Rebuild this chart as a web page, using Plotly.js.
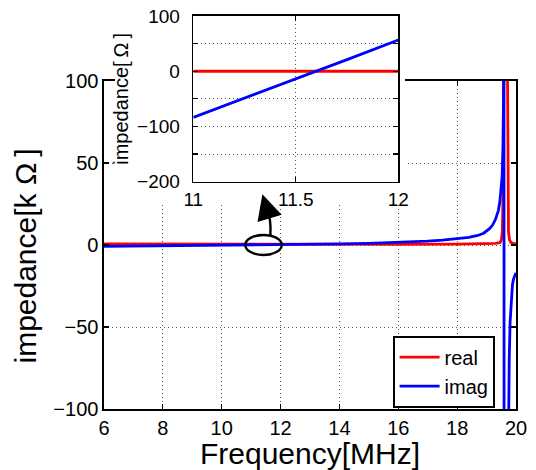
<!DOCTYPE html>
<html>
<head>
<meta charset="utf-8">
<script src="https://cdn.plot.ly/plotly-3.0.1.min.js"></script>
<style>
  html, body { margin: 0; padding: 0; background: #fff; }
  #wrap { position: relative; width: 536px; height: 470px; }
  #main, #inset { position: absolute; left: 0; top: 0; width: 536px; height: 470px; }
</style>
</head>
<body>
<div id="wrap">
  <div id="main"></div>
  <div id="inset"></div>
</div>
<script>
// ---------- data ----------
// main plot: frequency in MHz, impedance in kOhm
var freqReal = [6, 8, 10, 12, 14, 16, 18, 19, 19.3, 19.46, 19.5, 19.535, 19.56, 19.575, 19.6, 19.645, 19.69, 19.705, 19.72, 19.745, 19.78, 19.83, 19.9, 20];
var realK    = [0.6, 0.5, 0.4, 0.4, 0.4, 0.4, 0.5, 0.7, 1.0, 1.5, 3, 8, 30, 100, 400, 900, 400, 120, 30, 8, 3, 1.5, 1.0, 0.7];

var freqImag = [6, 7, 8, 9, 10, 11, 11.5, 12, 13, 14, 15, 16, 17, 17.5, 18, 18.4, 18.7, 18.9, 19.1, 19.2, 19.3, 19.4, 19.45, 19.5, 19.53, 19.56, 19.58, 19.59, 19.6, 19.65, 19.7, 19.74, 19.77, 19.8, 19.84, 19.88, 19.92, 19.96, 20];
var imagK    = [-0.8, -0.65, -0.5, -0.38, -0.25, -0.084, -0.015, 0.056, 0.35, 0.65, 1.0, 1.6, 2.4, 3.0, 3.8, 4.6, 5.8, 7.2, 10, 12, 15.5, 21, 26, 34, 42, 60, 95, 200, -450, -300, -190, -110, -70, -47, -31, -24, -20.5, -18.5, -17];

// inset: frequency in MHz, impedance in Ohm
var insetFreq = [11, 11.25, 11.5, 11.75, 12];
var insetReal = [0, 0, 0, 0, 0];
var insetImag = [-83.5, -49, -14.5, 21, 56.5];

// ticks
var mainXTicks = [6, 8, 10, 12, 14, 16, 18, 20];
var mainYTicks = [-100, -50, 0, 50, 100];
var insetXTicks = [11, 11.5, 12];
var insetXText = ['11', '11.5', '12'];
var insetYTicks = [-200, -150, -100, -50, 0, 50, 100];
var insetYText = ['\u2212200', '', '\u2212100', '', '0', '', '100'];

// ---------- styling ----------
var FONT = 'Liberation Sans, Arial, sans-serif';
var RED = '#ff0000', BLUE = '#0000ff';
var GRID = '#555555';
var GRIDDASH = '1px,3px';

function axisStyle(extra) {
  var a = {
    showline: true, linecolor: '#000', linewidth: 1.6,
    mirror: 'ticks', ticks: 'inside', ticklen: 5, tickwidth: 1.2, tickcolor: '#000',
    showgrid: true, gridcolor: GRID, gridwidth: 1, griddash: GRIDDASH,
    zeroline: false, fixedrange: true,
    tickfont: { family: FONT, size: 20, color: '#000' }
  };
  for (var k in extra) a[k] = extra[k];
  return a;
}

// ---------- main chart ----------
var mainTraces = [
  { x: freqReal, y: realK, type: 'scatter', mode: 'lines', name: 'real',
    line: { color: RED, width: 2.8 } },
  { x: freqImag, y: imagK, type: 'scatter', mode: 'lines', name: 'imag',
    line: { color: BLUE, width: 2.8 } }
];

var mainLayout = {
  width: 536, height: 470,
  margin: { l: 104, r: 20, t: 81, b: 61, pad: 0 },
  paper_bgcolor: '#fff', plot_bgcolor: '#fff',
  font: { family: FONT, color: '#000' },
  showlegend: true,
  legend: {
    x: 0.949, y: 0.003, xanchor: 'right', yanchor: 'bottom',
    bgcolor: '#fff', bordercolor: '#000', borderwidth: 1.6,
    font: { family: FONT, size: 20, color: '#000' },
    itemwidth: 40, tracegroupgap: 0
  },
  xaxis: axisStyle({
    range: [6, 20], tickvals: mainXTicks, ticklabelstandoff: 0,
    title: { text: 'Frequency[MHz]', font: { family: FONT, size: 30, color: '#000' }, standoff: 2 }
  }),
  yaxis: axisStyle({
    range: [-100, 100], tickvals: mainYTicks, ticklabelstandoff: 0
  }),
  // y-axis title (placed as rotated text so it sits where the reference has it)
  annotations: [
    { xref: 'paper', yref: 'paper', x: -0.1893, y: 0.4649, xanchor: 'center', yanchor: 'middle',
      text: 'impedance[k \u03A9\u2009]', textangle: -90, showarrow: false,
      font: { family: FONT, size: 30, color: '#000' } }
  ]
};

Plotly.newPlot('main', mainTraces, mainLayout, { staticPlot: true });

// ---------- inset + annotations overlay ----------
// overlay plot area: x 104..516, y 16..409
var insetTraces = [
  { x: insetFreq, y: insetReal, type: 'scatter', mode: 'lines', name: 'real',
    line: { color: RED, width: 2.8 }, xaxis: 'x', yaxis: 'y', showlegend: false },
  { x: insetFreq, y: insetImag, type: 'scatter', mode: 'lines', name: 'imag',
    line: { color: BLUE, width: 2.8 }, xaxis: 'x', yaxis: 'y', showlegend: false },
  { x: [], y: [], type: 'scatter', mode: 'lines', xaxis: 'x2', yaxis: 'y2', showlegend: false }
];

var insetLayout = {
  width: 536, height: 470,
  margin: { l: 104, r: 20, t: 16, b: 61, pad: 0 },
  paper_bgcolor: 'rgba(0,0,0,0)', plot_bgcolor: 'rgba(0,0,0,0)',
  font: { family: FONT, color: '#000' },
  showlegend: false,
  xaxis: axisStyle({
    domain: [0.2167, 0.7143], anchor: 'y', range: [11, 12],
    tickvals: insetXTicks, ticktext: insetXText, ticklabelstandoff: 0,
    tickfont: { family: FONT, size: 19, color: '#000' }
  }),
  yaxis: axisStyle({
    domain: [0.5784, 1], anchor: 'x', range: [-200, 100],
    tickvals: insetYTicks, ticktext: insetYText, ticklabelstandoff: 8,
    tickfont: { family: FONT, size: 19, color: '#000' },
    title: { text: 'impedance[\u2009\u03A9\u2009]', font: { family: FONT, size: 20, color: '#000' }, standoff: 3 }
  }),
  // invisible copy of the main axes, used to place the ellipse and arrow
  xaxis2: { domain: [0, 1], anchor: 'y2', range: [6, 20], visible: false, fixedrange: true },
  yaxis2: { domain: [0, 0.83461], anchor: 'x2', range: [-100, 100], visible: false, fixedrange: true },
  shapes: [
    // white backing behind the inset (hides main grid/border there)
    { type: 'rect', xref: 'paper', yref: 'paper', x0: 0.0267, x1: 0.7306, y0: 0.5242, y1: 1.05,
      fillcolor: '#fff', line: { width: 0 }, layer: 'below' },
    // ellipse around the zero crossing
    { type: 'circle', xref: 'x2', yref: 'y2', x0: 10.8, x1: 12.04, y0: -6.1, y1: 6.1,
      line: { color: '#000', width: 2.4 }, layer: 'above' },
    // curved arrow shaft
    { type: 'path', xref: 'x2', yref: 'y2',
      path: 'M 11.654,5.8 C 11.68,14 11.64,18.3 11.52,22.6',
      line: { color: '#000', width: 2.4 }, layer: 'above' }
  ],
  annotations: [
    { xref: 'x2', yref: 'y2', axref: 'x2', ayref: 'y2',
      x: 11.382, y: 30.9, ax: 11.53, ay: 22.0, text: '', showarrow: true,
      arrowhead: 2, arrowsize: 2.1, arrowwidth: 2.4, arrowcolor: '#000' }
  ]
};

Plotly.newPlot('inset', insetTraces, insetLayout, { staticPlot: true });
</script>
</body>
</html>
